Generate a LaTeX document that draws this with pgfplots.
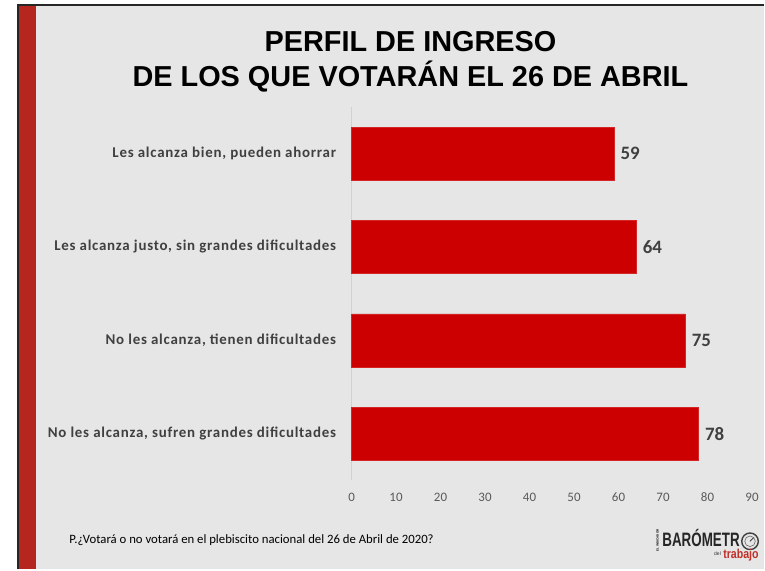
\documentclass[border=0pt]{standalone}
\usepackage{pgfplots}
\pgfplotsset{compat=1.18}
\usepackage{fontspec}
\setmainfont{Carlito}
\newfontfamily\titlefont{Liberation Sans}
\newfontfamily\labfont[LetterSpace=5]{Carlito}
\definecolor{bgg}{RGB}{230,230,230}
\definecolor{stripe}{RGB}{180,38,30}
\definecolor{barred}{RGB}{204,0,0}
\definecolor{txt}{RGB}{64,64,64}
\definecolor{tickc}{RGB}{89,89,89}
\definecolor{logored}{RGB}{192,48,40}
\begin{document}
\begin{tikzpicture}[x=1bp,y=1bp]
\fill[white] (0,0) rectangle (765,570);
\fill[bgg] (36,0) rectangle (765,565);
\fill[stripe] (19,0) rectangle (36,565);
\draw[black!85, line width=2bp] (18,0) -- (18,565) -- (765,565);
\node[font=\titlefont\bfseries\fontsize{29}{35}\selectfont, align=center, text=black] at (411,508) {PERFIL DE INGRESO\\DE LOS QUE VOTARÁN EL 26 DE ABRIL};
\begin{axis}[at={(352bp,89bp)}, anchor=south west, scale only axis,
  width=401bp, height=374bp,
  xbar, bar width=53bp,
  xmin=0, xmax=90, ymin=-0.5, ymax=3.5,
  ytick={0,1,2,3},
  yticklabels={{No les alcanza, sufren grandes dificultades},{No les alcanza, tienen dificultades},{Les alcanza justo, sin grandes dificultades},{Les alcanza bien, pueden ahorrar}},
  xtick={0,10,...,90},
  axis x line*=bottom, axis y line*=left,
  x axis line style={draw=none},
  y axis line style={draw=black!18, -},
  major tick length=0, tick style={draw=none},
  xticklabel style={font=\fontsize{13}{13}\selectfont, text=tickc, anchor=north, text height=9bp, text depth=0pt, yshift=-9bp},
  yticklabel style={font=\labfont\bfseries\fontsize{15}{17}\selectfont, text=txt, xshift=-12bp},
  nodes near coords,
  nodes near coords style={font=\bfseries\fontsize{19}{19}\selectfont, text=txt, xshift=3bp},
  /pgf/number format/assume math mode=true,
  clip=false]
\addplot[fill=barred, draw=barred!85!white] coordinates {(78,0) (75,1) (64,2) (59,3)};
\end{axis}
\node[anchor=west, font=\fontsize{12.8}{14}\selectfont, text=black] at (66,29) {P.¿Votará o no votará en el plebiscito nacional del 26 de Abril de 2020?};
\node[rotate=90, font=\titlefont\bfseries\fontsize{3}{3}\selectfont, inner sep=0] at (658.5,29) {EL INDICADOR};
\node[anchor=base west, inner sep=0, font=\titlefont\bfseries\fontsize{19.5}{19.5}\selectfont, text=black!85] at (663,22.5) {\scalebox{0.69}[1]{BARÓMETR}};
\draw[black!75, line width=1.4bp] (751,28) circle (8.3);
\draw[black!60, line width=0.6bp] (751,28) circle (5.3);
\draw[black!75, line width=0.9bp] (751,28) -- (754.5,31.5);
\node[anchor=base east, inner sep=0, font=\titlefont\fontsize{5}{5}\selectfont, text=black!80] at (722,14) {del};
\node[anchor=base west, inner sep=0, font=\titlefont\bfseries\fontsize{13}{13}\selectfont, text=logored] at (724,10.5) {\scalebox{0.82}[1]{trabajo}};
\end{tikzpicture}
\end{document}
